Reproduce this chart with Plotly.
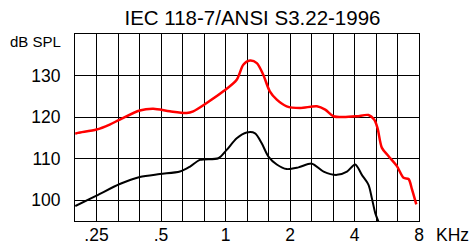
import numpy as np
import plotly.graph_objects as go

# Data (frequency in kHz, level in dB SPL)
red_freq = [0.199, 0.205, 0.25, 0.288, 0.321, 0.398, 0.46, 0.55, 0.659, 0.707, 0.817, 0.977,
            1.128, 1.211, 1.30, 1.40, 1.50, 1.61, 1.735, 1.93, 2.23, 2.67, 2.92, 3.19, 3.55,
            4.10, 4.65, 4.94, 5.12, 5.37, 5.77, 6.31, 6.78, 7.15, 7.42, 7.77]
red_db = [116.0, 116.2, 117.0, 118.2, 119.4, 121.6, 122.0, 121.4, 121.0, 121.4, 123.4, 126.2,
          129.0, 132.6, 133.6, 133.0, 130.2, 126.2, 124.2, 122.6, 122.2, 122.6, 121.8, 120.2, 120.0,
          120.2, 120.5, 119.4, 117.4, 112.6, 110.6, 108.2, 105.4, 105.1, 102.6, 99.0]

black_freq = [0.199, 0.25, 0.321, 0.398, 0.494, 0.613, 0.683, 0.76, 0.926, 1.013, 1.128, 1.256,
              1.374, 1.476, 1.586, 1.735, 1.93, 2.19, 2.53, 2.87, 3.31, 3.69, 4.03, 4.33, 4.65,
              4.82, 5.00, 5.18]
black_db = [98.6, 101.1, 103.9, 105.6, 106.3, 106.9, 108.1, 109.7, 110.1, 112.1, 114.9, 116.3,
            116.1, 113.7, 110.5, 108.6, 107.5, 107.9, 108.8, 106.9, 106.1, 106.9, 108.6, 106.1, 103.7,
            100.5, 96.9, 94.8]

x_tickvals = [0.25, 0.5, 1, 2, 4, 8]
x_ticktext = [".25", ".5", "1", "2", "4", "8"]
y_tickvals = [100, 110, 120, 130]
third_octaves = [0.25 * 2 ** (k / 3) for k in range(-1, 16)]

FONT = "Liberation Sans, Arial, sans-serif"

fig = go.Figure()
fig.add_trace(go.Scatter(x=red_freq, y=red_db, mode="lines",
                         line=dict(color="#ff0000", width=2.5, shape="spline", smoothing=0.8),
                         showlegend=False))
fig.add_trace(go.Scatter(x=black_freq, y=black_db, mode="lines",
                         line=dict(color="#000000", width=2, shape="spline", smoothing=0.8),
                         showlegend=False))

fig.update_layout(
    width=471, height=244,
    margin=dict(l=75, r=52, t=34, b=23),
    paper_bgcolor="white", plot_bgcolor="white",
    font=dict(family=FONT, color="black"),
    title=dict(text="IEC 118-7/ANSI S3.22-1996", x=0.536, xref="container", xanchor="center",
               y=1 - 18 / 244, yref="container", yanchor="middle", automargin=False,
               font=dict(size=20.5, family=FONT, color="black")),
    xaxis=dict(type="log", range=[np.log10(0.25) - np.log10(2) / 3, np.log10(8)],
               tickmode="array", tickvals=x_tickvals, ticktext=x_ticktext,
               tickfont=dict(size=17.5), showgrid=True, gridcolor="black", gridwidth=1,
               minor=dict(tickmode="array", tickvals=third_octaves, showgrid=True,
                          gridcolor="black", gridwidth=1, ticks=""),
               showline=True, mirror=True, linecolor="black", linewidth=1,
               ticks="", zeroline=False, ticklabelstandoff=-2, automargin=False),
    yaxis=dict(range=[95, 140], tickmode="array", tickvals=y_tickvals,
               tickfont=dict(size=17.5), showgrid=True, gridcolor="black", gridwidth=1,
               showline=True, mirror=True, linecolor="black", linewidth=1,
               ticks="", zeroline=False, ticklabelstandoff=10, automargin=False),
    annotations=[
        dict(text="dB SPL", xref="paper", yref="paper", x=-12 / 344, y=0.959,
             xanchor="right", yanchor="middle", showarrow=False,
             font=dict(size=15, family=FONT, color="black")),
        dict(text="KHz", xref="paper", yref="paper", x=1 + 15 / 344, y=-13.5 / 187,
             xanchor="left", yanchor="middle", showarrow=False,
             font=dict(size=17.5, family=FONT, color="black")),
    ],
)

fig.write_html("out.html", config={"displayModeBar": False, "staticPlot": True},
               post_script="document.body.style.margin='0';document.body.style.padding='0';"
                           "document.documentElement.style.overflow='hidden';")
